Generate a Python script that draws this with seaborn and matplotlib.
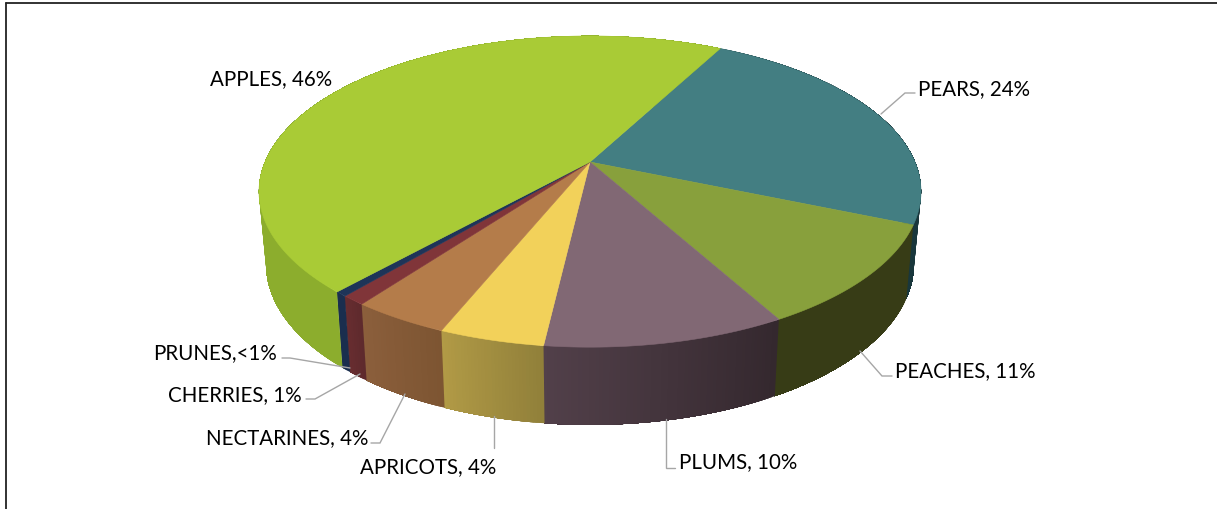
import numpy as np
import matplotlib
matplotlib.use("Agg")
import matplotlib.pyplot as plt
import seaborn as sns

# ---- data ----
fruits = ["PEARS", "PEACHES", "PLUMS", "APRICOTS", "NECTARINES", "CHERRIES", "PRUNES", "APPLES"]
shares = [23.6, 10.6, 9.9, 4.3, 4.0, 1.0, 0.5, 46.1]
labels = ["PEARS, 24%", "PEACHES, 11%", "PLUMS, 10%", "APRICOTS, 4%",
          "NECTARINES, 4%", "CHERRIES, 1%", "PRUNES,<1%", "APPLES, 46%"]

# ---- style ----
top_colors = ["#437E82", "#88A03C", "#816874", "#F2D15A", "#B47C4A", "#803539", "#1E3458", "#A9CB36"]
side_from = ["#19373C", "#373C16", "#34282E", "#91803A", "#7D5532", "#5E2A2D", "#1A2E4E", "#8CAD2D"]
side_to = ["#19373C", "#373C16", "#52404A", "#B29B46", "#8C5F3C", "#692D30", "#1A2E4E", "#8CAD2D"]
start_deg = 27.9
cx = 590.0
top_geom = dict(cy=163.0, ax=325.0, ay=150.0, k=0.19)
bot_geom = dict(cy=234.5, ax=318.0, ay=155.0, k=0.19)
label_xy = [(918, 89), (895, 371), (679, 462), (360, 467), (206, 438), (168, 395), (153, 353), (210, 79)]
leaders = [[(881, 115), (905, 94), (915, 94)],
           [(860, 352), (882, 377), (892, 377)],
           [(666, 420), (666, 469), (675, 469)],
           [(494, 417), (494, 449)],
           [(405, 395), (380, 444), (371, 444)],
           [(360, 375), (315, 400), (306, 400)],
           [(350, 369), (290, 359), (282, 359)]]

sns.set_theme(style="white")
plt.rcParams["font.family"] = ["Lato", "DejaVu Sans"]


def project(theta, g):
    """Clockwise angle from 12 o'clock to pixel position on a perspective disc."""
    x, y = np.sin(theta), np.cos(theta)
    d = 1 + g["k"] * y
    return cx + g["ax"] * x / d, g["cy"] - g["ay"] * y / d


def mix(c0, c1, t):
    a, b = np.array(matplotlib.colors.to_rgb(c0)), np.array(matplotlib.colors.to_rgb(c1))
    return tuple(a + (b - a) * t)


fig = plt.figure(figsize=(12.17, 5.10), dpi=100, facecolor="white")
ax = fig.add_axes([0, 0, 1, 1])
ax.set_xlim(0, 1217)
ax.set_ylim(510, 0)
ax.axis("off")

edges = np.deg2rad(start_deg + 3.6 * np.concatenate([[0], np.cumsum(shares)]) * 100 / sum(shares))

# sides first, the top face hides the rear part; each strip reaches the slice's
# end and the next strip paints over it, so no seams show through
for i in range(len(shares)):
    n = max(int(np.degrees(edges[i + 1] - edges[i]) / 0.5), 2)
    th = np.linspace(edges[i], edges[i + 1], n + 1)
    xt, yt = project(th, top_geom)
    xb, yb = project(th, bot_geom)
    for j in range(n):
        c = mix(side_from[i], side_to[i], j / n)
        ax.fill(np.r_[xt[j:], xb[j:][::-1]], np.r_[yt[j:], yb[j:][::-1]],
                color=c, lw=0, zorder=2 + i * 0.01)

# top face
for i in range(len(shares)):
    n = max(int(np.degrees(edges[i + 1] - edges[i])), 2)
    th = np.linspace(edges[i], edges[i + 1], n + 1)
    xs, ys = project(th, top_geom)
    ax.fill(np.r_[cx, xs], np.r_[top_geom["cy"], ys], color=top_colors[i], lw=0.4, zorder=3)

for pts in leaders:
    xs, ys = zip(*pts)
    ax.plot(xs, ys, color="#A6A6A6", lw=1.0, zorder=4, solid_joinstyle="miter")

for text, (x, y) in zip(labels, label_xy):
    ax.text(x, y, text, fontsize=14.8, color="#000000", ha="left", va="center", zorder=5)

# frame: top and left only
ax.plot([5.8, 5.8], [510, 3.8], color="#222222", lw=1.3, zorder=6)
ax.plot([5.8, 1217], [3.8, 3.8], color="#222222", lw=1.3, zorder=6)

fig.savefig("out.png", dpi=100, facecolor="white")
